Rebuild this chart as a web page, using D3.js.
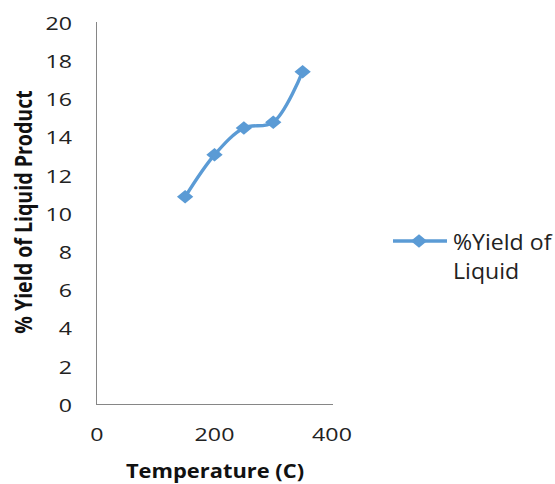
<!DOCTYPE html>
<html><head><meta charset="utf-8">
<script src="https://cdn.jsdelivr.net/npm/d3@7"></script>
<style>body{margin:0;background:#fff}svg{display:block}text{font-family:"Open Sans",sans-serif}</style>
</head><body>
<script>
const temperatures = [150, 200, 250, 300, 350];
const yieldValues = [10.9, 13.1, 14.5, 14.8, 17.45];
const xTicks = [0, 200, 400];
const yTicks = [0, 2, 4, 6, 8, 10, 12, 14, 16, 18, 20];
const seriesName = ["%Yield of", "Liquid"];

const W = 555, H = 484;
const svg = d3.select("body").append("svg").attr("width", W).attr("height", H);
const x = d3.scaleLinear().domain([0, 400]).range([97, 332]);
const y = d3.scaleLinear().domain([0, 20]).range([405, 23]);
const color = "#5B9BD5";
const stretch = 1.22;

// axes lines
svg.append("line").attr("x1", 96.5).attr("x2", 96.5).attr("y1", 22).attr("y2", 405).attr("stroke", "#868686").attr("stroke-width", 1);
svg.append("line").attr("x1", 96).attr("x2", 333).attr("y1", 404.5).attr("y2", 404.5).attr("stroke", "#868686").attr("stroke-width", 1);

// y tick labels
svg.selectAll(".yt").data(yTicks).enter().append("text")
  .attr("transform", d => `translate(72,${y(d)}) scale(${stretch},1)`)
  .attr("dy", "0.36em")
  .attr("text-anchor", "end").attr("font-size", 19).attr("fill", "#222")
  .text(d => d);
// x tick labels
svg.selectAll(".xt").data(xTicks).enter().append("text")
  .attr("transform", d => `translate(${x(d)},440.5) scale(${stretch},1)`)
  .attr("text-anchor", "middle").attr("font-size", 19).attr("fill", "#222")
  .text(d => d);

// titles
svg.append("text").attr("transform", "translate(215,478) scale(1.17,1)").attr("text-anchor", "middle")
  .attr("font-size", 18.7).attr("font-weight", "bold").attr("fill", "#111").text("Temperature (C)");
svg.append("text").attr("transform", "translate(31.5,212) rotate(-90) scale(1,1.2)").attr("text-anchor", "middle")
  .attr("font-size", 19.6).attr("font-weight", "bold").attr("fill", "#111").text("% Yield of Liquid Product");

// series
const data = temperatures.map((t, i) => ({t, v: yieldValues[i]}));
const line = d3.line().x(d => x(d.t)).y(d => y(d.v)).curve(d3.curveCatmullRom.alpha(0.5));
svg.append("path").datum(data).attr("d", line).attr("fill", "none").attr("stroke", color).attr("stroke-width", 3.4);
const marker = d3.symbol().type(d3.symbolSquare).size(58);
svg.selectAll(".pt").data(data).enter().append("path")
  .attr("transform", d => `translate(${x(d.t)},${y(d.v)}) scale(1.2,1) rotate(45)`)
  .attr("d", marker).attr("fill", color).attr("stroke", color).attr("stroke-width", 2);

// legend
svg.append("line").attr("x1", 393).attr("x2", 447).attr("y1", 241).attr("y2", 241).attr("stroke", color).attr("stroke-width", 3.4);
svg.append("path").attr("transform", "translate(419,241) scale(1.2,1) rotate(45)").attr("d", marker).attr("fill", color).attr("stroke", color).attr("stroke-width", 2);
svg.selectAll(".lg").data(seriesName).enter().append("text")
  .attr("transform", (d, i) => `translate(453,${250 + i * 28.5}) scale(1.05,1)`)
  .attr("font-size", 22).attr("fill", "#222").text(d => d);
</script>
</body></html>
